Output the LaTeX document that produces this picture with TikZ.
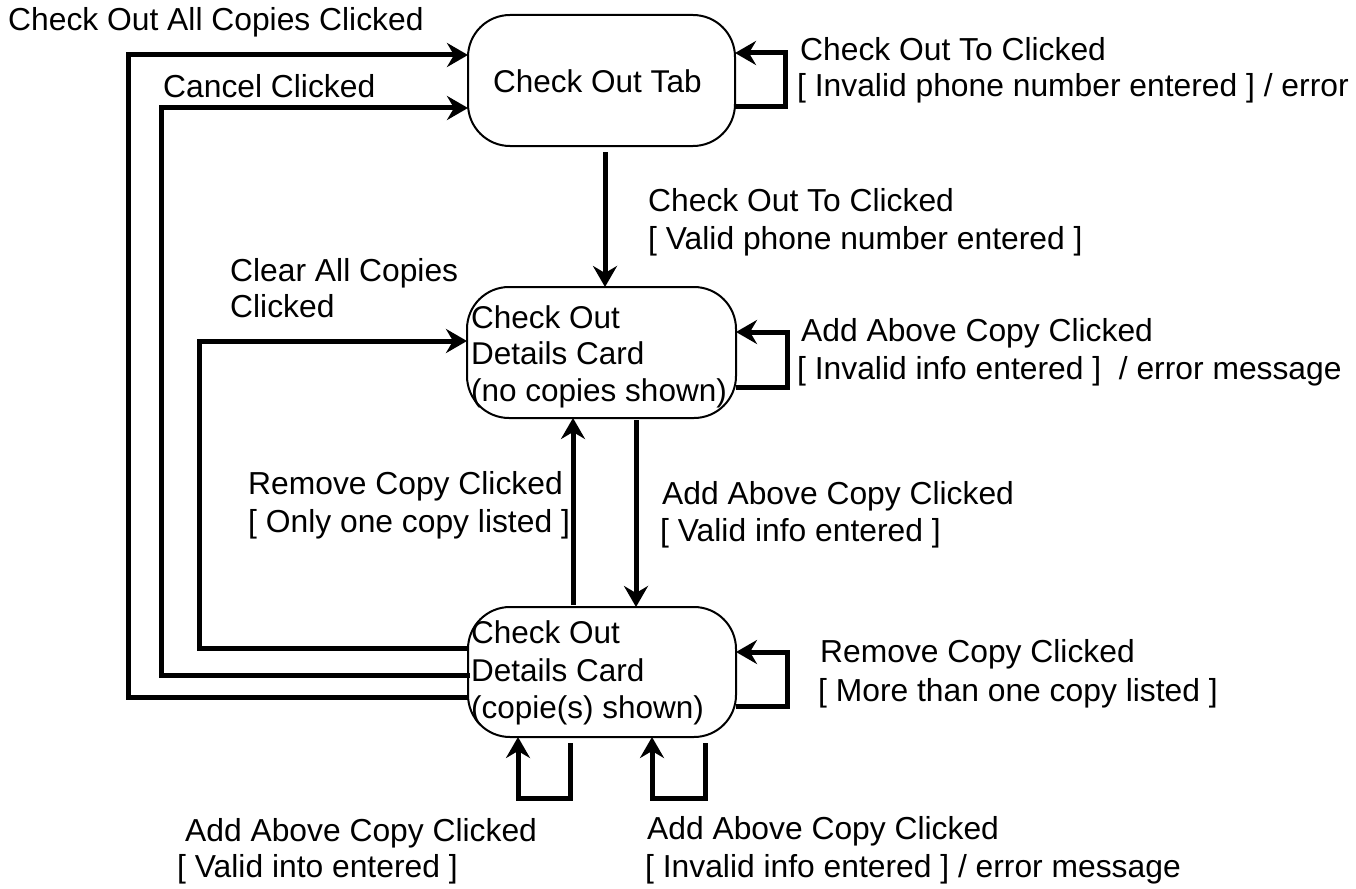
\documentclass[tikz,border=0pt]{standalone}
\usepackage{fontspec}
\setmainfont{Liberation Sans}
\usetikzlibrary{arrows.meta}
\begin{document}
\begin{tikzpicture}[x=1pt,y=-1pt,
  statebox/.style={draw,line width=2pt,rounded corners=42pt},
  conn/.style={line width=5pt,-{Stealth[length=21pt,width=24pt,inset=7pt]}},
  lbl/.style={anchor=base west,inner sep=0pt,font=\fontsize{31.8}{37}\selectfont},
  intext/.style={anchor=base west,inner sep=0pt,font=\fontsize{31.5}{37}\selectfont}]
\useasboundingbox (0,0) rectangle (1356,888);
% boxes
\draw[statebox] (468,15) rectangle (735,146);
\draw[statebox] (467,287) rectangle (736,418);
\draw[statebox] (468,607) rectangle (736,737);
\node[intext] (t1) at (493,93) {Check Out Tab};
\node[intext] (t2a) at (471,328) {Check Out};
\node[intext] (t2b) at (471,364) {Details Card};
\node[intext] (t2c) at (471,401) {(no copies shown)};
\node[intext] (t3a) at (471,643) {Check Out};
\node[intext] (t3b) at (471,681) {Details Card};
\node[intext] (t3c) at (471,718) {(copie(s) shown)};
% coordinates
\coordinate (A1) at (468,55);
\coordinate (A2) at (468,108);
\coordinate (A3) at (467,341);
% left feedback lines
\draw[conn] (468,697) -- (128,697) -- (128,55) -- (A1);
\draw[conn] (470,675) -- (161,675) -- (161,108) -- (A2);
\draw[conn] (468,648) -- (199,648) -- (199,341) -- (A3);
% vertical arrows
\draw[conn] (605,152) -- (605,287);
\draw[conn] (636,420) -- (636,607);
\draw[conn] (573,605) -- (573,418);
% self loops right
\draw[conn] (735,107) -- (785,107) -- (785,53) -- (735,53);
\draw[conn] (736,387) -- (787,387) -- (787,332) -- (736,332);
\draw[conn] (736,706) -- (787,706) -- (787,652) -- (736,652);
% self loops bottom
\draw[conn] (570,743) -- (570,798) -- (518,798) -- (518,737);
\draw[conn] (705,743) -- (705,798) -- (652,798) -- (652,737);
% labels
\node[lbl] (l1) at (8,31) {Check Out All Copies Clicked};
\node[lbl] (l2) at (163,98) {Cancel Clicked};
\node[lbl] (l3) at (800,61) {Check Out To Clicked};
\node[lbl] (l4) at (797,97) {[ Invalid phone number entered ] / error};
\node[lbl] (l5) at (648,211) {Check Out To Clicked};
\node[lbl] (l6) at (648,249) {[ Valid phone number entered ]};
\node[lbl] (l7) at (230,281) {Clear All Copies};
\node[lbl] (l8) at (230,317) {Clicked};
\node[lbl] (l9) at (801,341) {Add Above Copy Clicked};
\node[lbl] (l10) at (797,379) {[ Invalid info entered ]\ \ / error message};
\node[lbl] (l11) at (248,494) {Remove Copy Clicked};
\node[lbl] (l12) at (248,532) {[ Only one copy listed ]};
\node[lbl] (l13) at (662,504) {Add Above Copy Clicked};
\node[lbl] (l14) at (660,541) {[ Valid info entered ]};
\node[lbl] (l15) at (820,662) {Remove Copy Clicked};
\node[lbl] (l16) at (818,701) {[ More than one copy listed ]};
\node[lbl] (l17) at (185,841) {Add Above Copy Clicked};
\node[lbl] (l18) at (177,877) {[ Valid into entered ]};
\node[lbl] (l19) at (647,839) {Add Above Copy Clicked};
\node[lbl] (l20) at (645,877) {[ Invalid info entered ] / error message};
\end{tikzpicture}
\end{document}
